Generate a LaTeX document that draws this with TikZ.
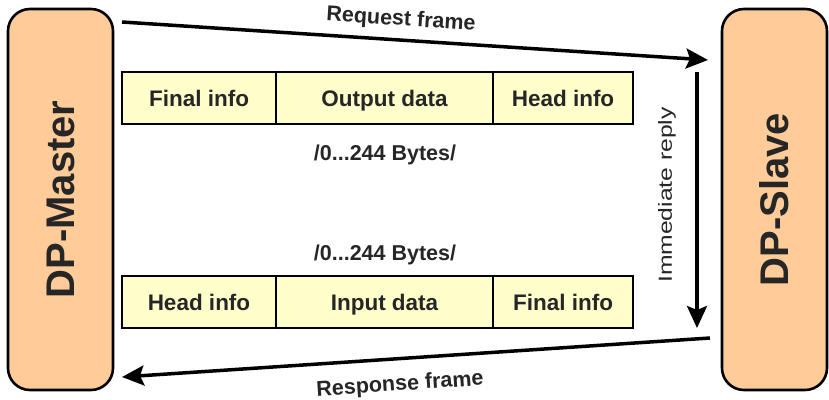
\documentclass[tikz,border=0pt]{standalone}
\usepackage{fontspec}
\setmainfont{Liberation Sans}
\usetikzlibrary{arrows.meta,positioning}
\definecolor{stationfill}{HTML}{FFCC99}
\definecolor{cellfill}{HTML}{FFFFCC}
\definecolor{txtgray}{HTML}{262626}

\begin{document}
\begin{tikzpicture}[x=1pt,y=-1pt,
  station/.style={draw, line width=2.6pt, fill=stationfill, rounded corners=22pt,
    inner sep=0pt, outer sep=0pt, rotate=90, minimum width=381pt, minimum height=105pt,
    text=txtgray, font=\fontsize{40}{44}\selectfont\bfseries},
  cell/.style={draw, line width=2.3pt, fill=cellfill, minimum height=52pt,
    text height=17pt, text depth=0pt,
    inner sep=0pt, outer sep=0pt, text=txtgray, font=\fontsize{22.5}{26}\selectfont\bfseries},
  lbl/.style={text=txtgray, font=\fontsize{21.5}{25}\selectfont\bfseries},
  flow/.style={line width=3.5pt, -{Stealth[length=22pt,width=20pt,inset=4pt]}}]
  \useasboundingbox (0,0) rectangle (829,399);

  % master and slave
  \node[station] (master) at (60.5,199.5) {DP-Master};
  \node[station] (slave) at (774.5,199.5) {DP-Slave};

  % request frame
  \coordinate (reqS) at (122,22);
  \coordinate (reqE) at (708,60);
  \draw[flow] (reqS) -- (reqE);
  \node[lbl, rotate=-3.7] (reqlbl) at (401,20) {Request frame};

  \node[cell, minimum width=154pt, anchor=north west] (tfinal) at (122,72) {Final info};
  \node[cell, minimum width=217pt, right=0pt of tfinal] (tout) {Output data};
  \node[cell, minimum width=140pt, right=0pt of tout] (thead) {Head info};
  \node[lbl] (tbytes) at (385,155) {/0...244 Bytes/};

  % immediate reply
  \coordinate (repS) at (697,72);
  \coordinate (repE) at (697,328);
  \draw[flow] (repS) -- (repE);
  \node[rotate=90, text=txtgray, font=\fontsize{19}{22}\selectfont] (replbl) at (667,195)
    {\scalebox{1.3}[1]{Immediate reply}};

  % response frame
  \node[lbl] (bbytes) at (385,255) {/0...244 Bytes/};
  \node[cell, minimum width=154pt, anchor=north west] (bhead) at (122,276) {Head info};
  \node[cell, minimum width=217pt, right=0pt of bhead] (bin) {Input data};
  \node[cell, minimum width=140pt, right=0pt of bin] (bfinal) {Final info};

  \coordinate (resS) at (710,338);
  \coordinate (resE) at (122,377);
  \draw[flow] (resS) -- (resE);
  \node[lbl, rotate=3.8] (reslbl) at (400,385) {Response frame};
\end{tikzpicture}
\end{document}
